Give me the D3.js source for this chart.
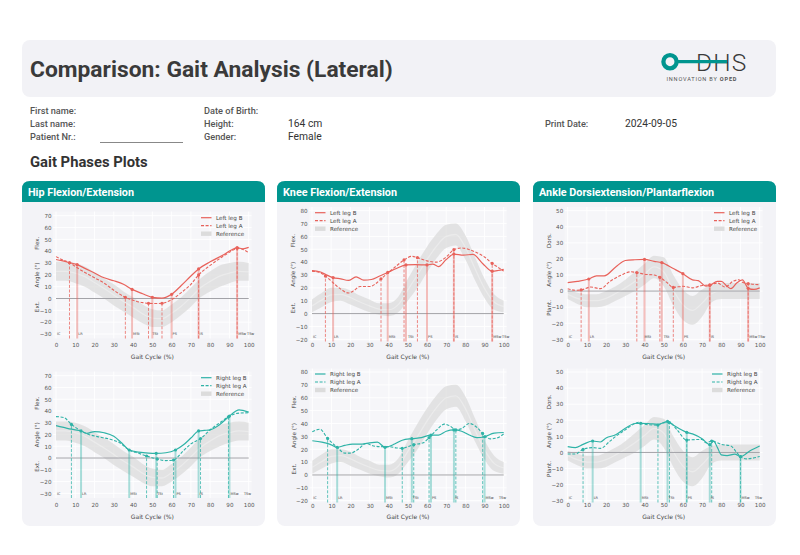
<!DOCTYPE html>
<html><head><meta charset="utf-8">
<script src="https://cdn.jsdelivr.net/npm/d3@7"></script>
<style>body{margin:0;background:#fff}svg{display:block}</style>
</head><body>
<script>
// ---------- DATA ----------
const xTicks = [0,10,20,30,40,50,60,70,80,90,100];
const refX = [0,5,10,15,20,25,30,35,40,45,50,55,60,65,70,75,80,85,90,95,100];
const hipRefLo = [15,15,13,10,5,0,-6,-11,-16,-21,-24,-24,-20,-14,-7,1,6,10,13,15,15];
const hipRefHi = [31,31,30,27,22,17,12,6,1,-5,-9,-10,-5,1,9,17,23,28,30,31,30];
const kneeRefLo = [1,5,9,10,7,4,1,-1,-2,1,10,20,32,43,51,53,42,26,12,3,1];
const kneeRefHi = [11,16,20,20,18,14,11,8,8,13,27,40,52,62,69,70,61,44,27,15,10];
const ankleRefLo = [-5,-8,-10,-10,-9,-6,-3,0,4,8,3,-9,-18,-21,-16,-7,-5,-5,-5,-5,-5];
const ankleRefHi = [1,-1,-2,-2,0,3,7,12,17,22,21,10,1,-3,1,4,5,5,5,5,5];

const hipLeftB = [[0,33],[3,32],[7,30.3],[11,28.6],[15,25.5],[20,21.5],[25,17.5],[30,15],[35,12],[39.5,7.7],[45,4],[50,1],[55,0.3],[60,3.5],[65,11],[70,19],[74,25],[80,31],[87,37],[91,41],[94,43],[97,42],[100,43.2]];
const hipLeftA = [[0,35.4],[3,33],[7,30.3],[11,26],[15,22],[20,17.5],[25,13],[30,7],[36,1],[40,-1.5],[45,-3.5],[48,-4.1],[52,-4.2],[55,-4],[60,-1],[65,5],[70,12],[74,19.9],[80,28],[87,36],[91,40],[94,42.4],[97,41.5],[100,38.7]];
const hipLeftBEvents = [[11,28.6],[39.5,7.7],[50,1],[60,3.5],[74,25],[94,43]];
const hipLeftAEvents = [[7,30.3],[36,1],[48,-4.1],[55,-4],[74,19.9],[94,42.4]];

const hipRightB = [[0,27.5],[4,26],[8,24.5],[13,23],[16,21],[20,22.5],[25,21.5],[30,18.5],[34,13],[38,6.8],[43,5],[48,4.2],[52,4],[57,4.5],[62,6.8],[66,11],[70,17],[74,23],[77,23.5],[80,24],[85,28.5],[90,35.7],[93,39.5],[95,41],[97,40.5],[100,39]];
const hipRightA = [[0,35.2],[4,34.5],[8,28.6],[13,23],[17,20],[22,18],[28,16],[33,13],[38,6.8],[43,4],[47,1.7],[52.5,-0.8],[57,-2.2],[61,-1.7],[66,6],[70,12],[75,16.5],[80,24],[85,30],[89.5,35],[94,38],[100,38.5]];
const hipRightBEvents = [[13,23],[38,6.8],[52,4],[62,6.8],[74,23],[90,35.7]];
const hipRightAEvents = [[8,28.6],[47,1.7],[52.5,-0.8],[61,-1.7],[75,16.5],[89.5,35]];

const kneeLeftB = [[0,33.4],[4,32.5],[7,30.5],[11,28],[15,27],[19,25.8],[23,28.5],[27,26],[31,26.5],[35,29],[39.5,32],[44,35],[49,37.8],[54,38],[60,37.8],[63,38.5],[66,36.5],[70,42],[74,46.3],[79,45.5],[84,46],[89,39],[94,33],[97,33.5],[100,34.4]];
const kneeLeftA = [[0,33],[4,32],[7,29.2],[11,24],[15,19],[19,16],[22,18],[25,21],[30,21],[33,23],[36,27],[40,32],[44,37],[48,41.7],[52,44.5],[55,43.5],[60,41],[65,40],[70,44],[74,49.7],[78,51],[85,48],[90,44],[94,39],[97,36],[100,33]];
const kneeLeftBEvents = [[11,28],[39.5,32],[49,37.8],[60,37.8],[74,46.3],[94,33]];
const kneeLeftAEvents = [[7,29.2],[36,27],[48,41.7],[55,43.5],[74,49.7],[94,39]];

const kneeRightB = [[0,26.6],[5,25.5],[9,24],[13,21.5],[17,23],[21,24],[26,24],[30,25],[34,25.5],[38,21.5],[43,24],[47,27],[52,28.2],[57,29],[62,31],[66,31],[70,34],[74,35],[78,34],[82,31],[86,29],[90,29.7],[95,32.5],[100,33]];
const kneeRightA = [[0,33.6],[4,35.5],[8,28.4],[13,21.5],[17,17],[20,17],[24,20],[28,24.5],[32,22.5],[36,22],[40,22],[44,21],[47,20.7],[50,22],[53,23.5],[58,25],[61,29],[65,35],[69,39.5],[72,38],[75,35],[78,36],[82,40],[86,37],[89,32.3],[93,28],[97,29],[100,32]];
const kneeRightBEvents = [[13,21.5],[38,21.5],[52,28.2],[62,31],[74,35],[90,29.7]];
const kneeRightAEvents = [[8,28.4],[47,20.7],[53,23.5],[61,29],[75,35],[89,32.3]];

const ankleLeftB = [[0,5.2],[5,6],[11,7.5],[15,9.5],[19,9.5],[25,15],[30,19],[35,19.5],[40,19.7],[45,18.5],[49,17.7],[55,14],[60,10.8],[65,7],[68,6.5],[72,3],[74,3.6],[78,6],[80,6],[83,3],[85,1.5],[88,5],[91,7],[94,1.7],[97,1],[100,2]];
const ankleLeftA = [[0,1.5],[4,0.5],[7,0.7],[12,2.5],[17,1.5],[22,6],[28,10],[33,12],[36,11.5],[40,10.5],[45,10],[48,8.5],[52,5],[55,2.3],[60,3],[65,2],[70,3.5],[74,3.8],[78,5],[82,2.5],[86,6],[89,7],[91,5.5],[94,4.6],[100,4]];
const ankleLeftBEvents = [[11,7.5],[40,19.7],[49,17.7],[60,10.8],[74,3.6],[94,1.7]];
const ankleLeftAEvents = [[7,0.7],[36,11.5],[48,8.5],[55,2.3],[74,3.8],[94,4.6]];

const ankleRightB = [[0,3.6],[4,3],[8,5],[13,7.1],[17,6.5],[20,9],[25,11],[30,15],[35,18],[38,18.1],[42,18],[47,17.5],[50,18.5],[52,19.3],[55,17],[62,12.5],[65,11.5],[70,8.5],[74,4.8],[76,7],[78,3],[80,-1.5],[83,-2],[87,-1],[90,-2.6],[95,1],[100,4]];
const ankleRightA = [[0,-1],[4,-1],[8,1.9],[13,3],[17,2.5],[22,7],[25,10],[30,14],[35,18],[37,18.8],[40,17.5],[47,17],[50,18.5],[53,18.5],[57,14],[62,7.7],[67,8],[70,8],[72,6],[75,7.1],[80,5],[85,4],[88,0],[90,-2.6],[93,-4],[100,-2.5]];
const ankleRightBEvents = [[13,7.1],[38,18.1],[52,19.3],[62,12.5],[74,4.8],[90,-2.6]];
const ankleRightAEvents = [[8,1.9],[47,17],[53,18.5],[62,7.7],[75,7.1],[90,-2.6]];

const phaseNames = ["IC","LR","MSt","TSt","PS","IS","MSw","TSw"];
const leftPhaseX = [0,11,39.5,49.5,60,74,94,98.6];
const rightPhaseX = [0,13,38,52,62,74,90,97];

const panelTitles = ["Hip Flexion/Extension","Knee Flexion/Extension","Ankle Dorsiextension/Plantarflexion"];
const infoLabels = [["First name:",""],["Last name:",""],["Patient Nr.:",""],["Date of Birth:",""],["Height:","164 cm"],["Gender:","Female"],["Print Date:","2024-09-05"]];

// ---------- STYLE / LAYOUT ----------
const RED = "#e8625b", TEAL = "#2fb3a7", HEAD = "#00958f";
const W = 800, H = 555;
const svg = d3.select("body").append("svg").attr("width", W).attr("height", H)
  .style("font-family", "Roboto, 'Liberation Sans', sans-serif");

// header box
svg.append("rect").attr("x",22).attr("y",40).attr("width",754).attr("height",57).attr("rx",8).attr("fill","#f2f2f6");
svg.append("text").attr("x",30).attr("y",76.5).attr("font-size",22.8).attr("font-weight",700).attr("fill","#3a3a3a")
  .text("Comparison: Gait Analysis (Lateral)");
// logo
const logo = svg.append("g");
logo.append("text").attr("x",696).attr("y",70.5).attr("font-size",24.5).attr("font-weight",300).attr("fill","#3a3a3a")
  .attr("letter-spacing",1.2).text("DHS");
logo.append("line").attr("x1",676).attr("x2",727).attr("y1",61.7).attr("y2",61.7).attr("stroke",HEAD).attr("stroke-width",3.2);
logo.append("circle").attr("cx",670).attr("cy",61.7).attr("r",6.6).attr("fill","none").attr("stroke",HEAD).attr("stroke-width",4.3);
const lt = logo.append("text").attr("x",666.5).attr("y",80.5).attr("font-size",5.6).attr("fill","#555").attr("textLength",70).attr("lengthAdjust","spacing");
lt.append("tspan").text("INNOVATION BY ");
lt.append("tspan").attr("font-weight",700).text("OPED");

// info
const infoPos = [[30,114],[30,127],[30,140],[204,114],[204,127],[204,140],[545,127]];
infoLabels.forEach((d,i)=>{
  const [x,y] = infoPos[i];
  svg.append("text").attr("x",x).attr("y",y).attr("font-size",9.2).attr("font-weight",500).attr("fill","#555").text(d[0]);
  if (d[1]) svg.append("text").attr("x", x < 500 ? x+84 : x+80).attr("y",y).attr("font-size",10.3).attr("fill","#333").text(d[1]);
});
svg.append("line").attr("x1",100).attr("x2",183).attr("y1",142.5).attr("y2",142.5).attr("stroke","#888").attr("stroke-width",1);
svg.append("text").attr("x",30).attr("y",166.5).attr("font-size",14.8).attr("font-weight",700).attr("fill","#333").text("Gait Phases Plots");

// panels
const panelX = [22,277,533];
panelX.forEach((px,i)=>{
  svg.append("rect").attr("x",px).attr("y",181).attr("width",243).attr("height",345).attr("rx",8).attr("fill","#f3f3f7");
  svg.append("path").attr("fill",HEAD)
    .attr("d",`M${px},202 V189 Q${px},181 ${px+8},181 H${px+235} Q${px+243},181 ${px+243},189 V202 Z`);
  svg.append("text").attr("x",px+6).attr("y",195.8).attr("font-size",10.8).attr("font-weight",700).attr("fill","#fff").text(panelTitles[i]);
});

function drawPlot(c){
  const x = d3.scaleLinear().domain([0,100]).range([c.x0,c.x1]);
  const y = d3.scaleLinear().domain([c.yMin,c.yMax]).range([c.yB,c.yT]);
  const g = svg.append("g").style("font-family","'DejaVu Sans', sans-serif");
  const left = x(-1.5), right = x(101.5), top = c.top, bottom = c.bottom;
  g.append("rect").attr("x",left).attr("y",top).attr("width",right-left).attr("height",bottom-top).attr("fill","#f6f6f9");
  const yt = d3.range(c.yMin, c.yMax+1, 10);
  g.selectAll(".gx").data(xTicks).join("line").attr("x1",d=>x(d)).attr("x2",d=>x(d)).attr("y1",top).attr("y2",bottom)
    .attr("stroke","#fff").attr("stroke-width",0.9);
  g.selectAll(".gy").data(yt).join("line").attr("y1",d=>y(d)).attr("y2",d=>y(d)).attr("x1",left).attr("x2",right)
    .attr("stroke","#fff").attr("stroke-width",0.9);
  // reference band
  const band = refX.map((v,i)=>({x:v, lo:c.lo[i], hi:c.hi[i]}));
  g.append("path").datum(band).attr("fill","#dddddd").attr("opacity",0.8)
    .attr("d", d3.area().x(d=>x(d.x)).y0(d=>y(d.lo)).y1(d=>y(d.hi)).curve(d3.curveMonotoneX));
  g.append("path").datum(band).attr("fill","none").attr("stroke","#fff").attr("stroke-opacity",0.3).attr("stroke-width",1.3)
    .attr("d", d3.line().x(d=>x(d.x)).y(d=>y((d.lo+d.hi)/2)).curve(d3.curveMonotoneX));
  // zero line
  g.append("line").attr("x1",x(0)).attr("x2",x(100)).attr("y1",y(0)).attr("y2",y(0)).attr("stroke","#a3a3a8").attr("stroke-width",1);
  // event lines
  g.selectAll(".eb").data(c.bEv).join("line").attr("x1",d=>x(d[0])).attr("x2",d=>x(d[0])).attr("y1",bottom).attr("y2",d=>y(d[1]))
    .attr("stroke",c.color).attr("stroke-width",2).attr("stroke-opacity",0.4);
  g.selectAll(".ea").data(c.aEv).join("line").attr("x1",d=>x(d[0])).attr("x2",d=>x(d[0])).attr("y1",bottom).attr("y2",d=>y(d[1]))
    .attr("stroke",c.color).attr("stroke-width",1).attr("stroke-opacity",0.75).attr("stroke-dasharray","3,1.6");
  // series
  const line = d3.line().x(d=>x(d[0])).y(d=>y(d[1])).curve(d3.curveMonotoneX);
  g.append("path").datum(c.b).attr("fill","none").attr("stroke",c.color).attr("stroke-width",1.2).attr("d",line);
  g.append("path").datum(c.a).attr("fill","none").attr("stroke",c.color).attr("stroke-width",1.1).attr("stroke-dasharray","3,1.6").attr("d",line);
  g.selectAll(".mb").data(c.bEv.concat(c.aEv)).join("circle").attr("cx",d=>x(d[0])).attr("cy",d=>y(d[1])).attr("r",1.6).attr("fill",c.color);
  // phase labels
  g.selectAll(".pl").data(c.phaseX).join("text").attr("x",d=>x(d)+1).attr("y",bottom-3.2)
    .attr("font-size",3.5).attr("fill","#444").text((d,i)=>phaseNames[i]);
  // axes
  const ax = g.append("g").attr("transform",`translate(0,${c.yB})`)
    .call(d3.axisBottom(x).tickValues(xTicks).tickSize(0).tickPadding(c.xpad));
  ax.select(".domain").remove();
  ax.selectAll("text").attr("font-size",5.6).attr("fill","#555").attr("font-family","'DejaVu Sans', sans-serif");
  const ay = g.append("g").attr("transform",`translate(${c.x0-4.5},0)`)
    .call(d3.axisLeft(y).tickValues(yt).tickSize(0).tickPadding(0));
  ay.select(".domain").remove();
  ay.selectAll("text").attr("font-size",5.6).attr("fill","#555").attr("font-family","'DejaVu Sans', sans-serif");
  // axis labels
  g.append("text").attr("x",(c.x0+c.x1)/2).attr("y",c.xlabY).attr("text-anchor","middle").attr("font-size",6).attr("fill","#444").text("Gait Cycle (%)");
  const lx = c.x0-18.5;
  [[0.75,c.upLab],[0.5,"Angle (°)"],[0.25,c.dnLab]].forEach(([f,t])=>{
    const yy = bottom - f*(bottom-top);
    g.append("text").attr("transform",`translate(${lx},${yy}) rotate(-90)`).attr("text-anchor","middle").attr("dy","0.35em")
      .attr("font-size",5.6).attr("fill","#444").text(t);
  });
  // legend
  const leg = g.append("g");
  const items = [[c.side+" leg B","solid"],[c.side+" leg A","dash"],["Reference","ref"]];
  items.forEach((it,i)=>{
    const yy = c.yT + 2 + i*8;
    if (it[1]==="ref") leg.append("rect").attr("x",c.legX).attr("y",yy-2.2).attr("width",10.5).attr("height",4.4).attr("fill","#dcdcdc");
    else leg.append("line").attr("x1",c.legX).attr("x2",c.legX+10.5).attr("y1",yy).attr("y2",yy).attr("stroke",c.color)
      .attr("stroke-width",1.2).attr("stroke-dasharray", it[1]==="dash" ? "3,1.6" : null);
    leg.append("text").attr("x",c.legX+15).attr("y",yy).attr("dy","0.35em").attr("font-size",5.6).attr("fill","#444").text(it[0]);
  });
}

drawPlot({x0:56,x1:248.7,yT:215.7,yB:334,yMin:-30,yMax:70,top:211.5,bottom:338.5,xpad:9.3,xlabY:359,lo:hipRefLo,hi:hipRefHi,
  b:hipLeftB,a:hipLeftA,bEv:hipLeftBEvents,aEv:hipLeftAEvents,phaseX:leftPhaseX,color:RED,side:"Left",legX:201,upLab:"Flex.",dnLab:"Ext."});
drawPlot({x0:56,x1:248.7,yT:375.7,yB:493.3,yMin:-30,yMax:70,top:371.5,bottom:498,xpad:9.8,xlabY:518.5,lo:hipRefLo,hi:hipRefHi,
  b:hipRightB,a:hipRightA,bEv:hipRightBEvents,aEv:hipRightAEvents,phaseX:rightPhaseX,color:TEAL,side:"Right",legX:201,upLab:"Flex.",dnLab:"Ext."});
drawPlot({x0:312,x1:503.7,yT:210.7,yB:339.3,yMin:-20,yMax:80,top:207,bottom:341.5,xpad:3.8,xlabY:358.5,lo:kneeRefLo,hi:kneeRefHi,
  b:kneeLeftB,a:kneeLeftA,bEv:kneeLeftBEvents,aEv:kneeLeftAEvents,phaseX:leftPhaseX,color:RED,side:"Left",legX:315,upLab:"Flex.",dnLab:"Ext."});
drawPlot({x0:312.3,x1:503.7,yT:372,yB:500.7,yMin:-20,yMax:80,top:368.5,bottom:502.5,xpad:3.5,xlabY:518.5,lo:kneeRefLo,hi:kneeRefHi,
  b:kneeRightB,a:kneeRightA,bEv:kneeRightBEvents,aEv:kneeRightAEvents,phaseX:rightPhaseX,color:TEAL,side:"Right",legX:315,upLab:"Flex.",dnLab:"Ext."});
drawPlot({x0:567.7,x1:759.7,yT:210.7,yB:339.3,yMin:-30,yMax:50,top:207,bottom:341.5,xpad:3.8,xlabY:359,lo:ankleRefLo,hi:ankleRefHi,
  b:ankleLeftB,a:ankleLeftA,bEv:ankleLeftBEvents,aEv:ankleLeftAEvents,phaseX:leftPhaseX,color:RED,side:"Left",legX:714,upLab:"Dors.",dnLab:"Plant."});
drawPlot({x0:567.7,x1:759.7,yT:372,yB:500.7,yMin:-30,yMax:50,top:368.5,bottom:502.5,xpad:2.8,xlabY:518.5,lo:ankleRefLo,hi:ankleRefHi,
  b:ankleRightB,a:ankleRightA,bEv:ankleRightBEvents,aEv:ankleRightAEvents,phaseX:rightPhaseX,color:TEAL,side:"Right",legX:712,upLab:"Dors.",dnLab:"Plant."});
</script>
</body></html>
